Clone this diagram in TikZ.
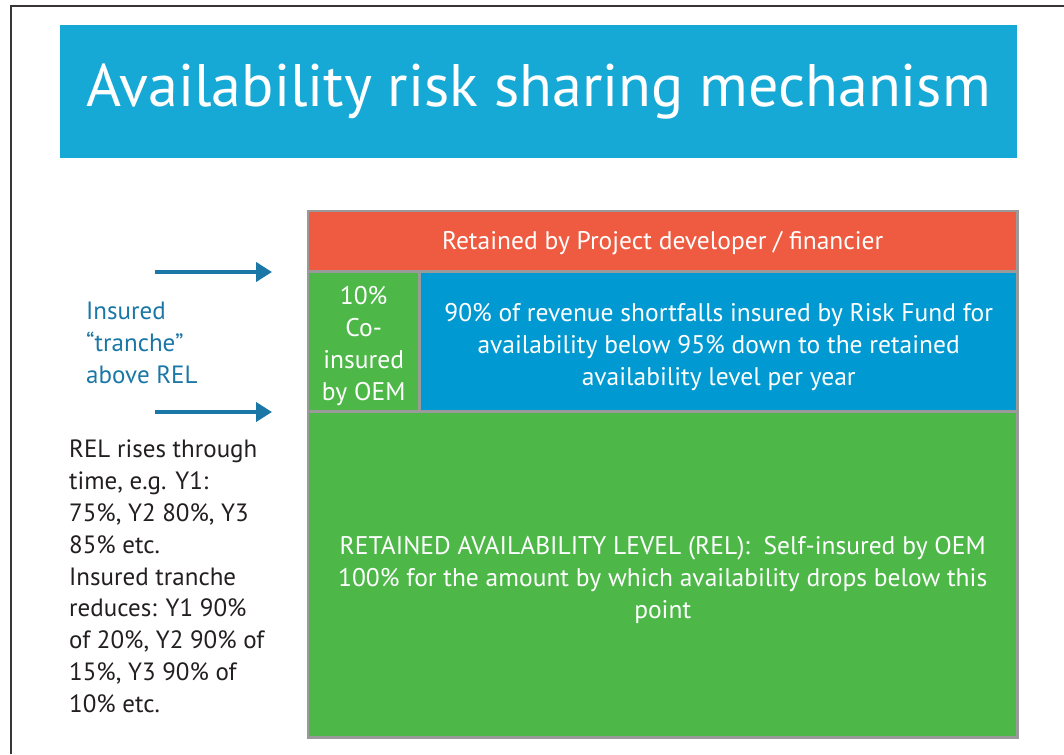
\documentclass[tikz,border=0pt]{standalone}
\usepackage{fontspec}
\setmainfont{PT Sans}
\usepackage{tikz}
\usepackage{xcolor}
\usetikzlibrary{arrows.meta}
\definecolor{titleblue}{HTML}{17A9D6}
\definecolor{riskred}{HTML}{EF5B40}
\definecolor{oemgreen}{HTML}{4DB848}
\definecolor{fundblue}{HTML}{0099D1}
\definecolor{framegray}{HTML}{9A9A9A}
\definecolor{notetext}{HTML}{1B77A6}
\definecolor{darktext}{HTML}{231F20}
\tikzset{
    layer-box/.style = {rectangle, inner sep=0pt, anchor=north west, text=white, align=center, font=\fontsize{25.5}{32}\selectfont},
    side-note/.style = {anchor=north west, inner sep=0pt, align=left, font=\fontsize{25}{31.8}\selectfont},
    tranche-arrow/.style = {draw=notetext, line width=4pt, -{Triangle[length=16pt, width=19pt]}},
}

\begin{document}
\begin{tikzpicture}[x=1pt, y=-1pt]
\useasboundingbox (0,0) rectangle (1064,754);
\draw[darktext!90, line width=1.5pt] (11,754) |- (1064,6);
\node [rectangle, fill=titleblue, anchor=north west, minimum width=957pt, minimum height=133pt, inner sep=0pt, text=white, font=\fontsize{60}{66}\selectfont] (title) at (60,25) {Availability risk sharing mechanism};
\fill[framegray] (307,210) rectangle (1019,739);
\node [layer-box, fill=riskred, minimum width=707pt, minimum height=58pt] (retained) at (309,212) {\rule{0pt}{22pt}Retained by Project developer / financier};
\node [layer-box, fill=oemgreen, minimum width=109pt, minimum height=137pt] (coinsured) at (309,273) {\rule{0pt}{26pt}10\%\\Co-\\insured\\by OEM};
\node [layer-box, fill=fundblue, minimum width=595pt, minimum height=137pt] (riskfund) at (421,273) {\rule{0pt}{28pt}90\% of revenue shortfalls insured by Risk Fund for\\availability below 95\% down to the retained\\availability level per year};
\node [layer-box, fill=oemgreen, minimum width=707pt, minimum height=323pt] (rel) at (309,413) {\rule{0pt}{28pt}RETAINED AVAILABILITY LEVEL (REL):\ \ Self-insured by OEM\\100\% for the amount by which availability drops below this\\point};
\node [side-note, text=notetext] (tranche) at (86,302) {Insured\\``tranche''\\above REL};
\node [side-note, text=darktext] (relnote) at (69,440) {REL rises through\\time, e.g. Y1:\\75\%, Y2 80\%, Y3\\85\% etc.\\Insured tranche\\reduces: Y1 90\%\\of 20\%, Y2 90\% of\\15\%, Y3 90\% of\\10\% etc.};
\coordinate (topstart) at (155,272);
\coordinate (topend) at (272,272);
\coordinate (botstart) at (155,412);
\coordinate (botend) at (272,412);
\draw[tranche-arrow] (topstart) -- (topend);
\draw[tranche-arrow] (botstart) -- (botend);
\end{tikzpicture}
\end{document}
